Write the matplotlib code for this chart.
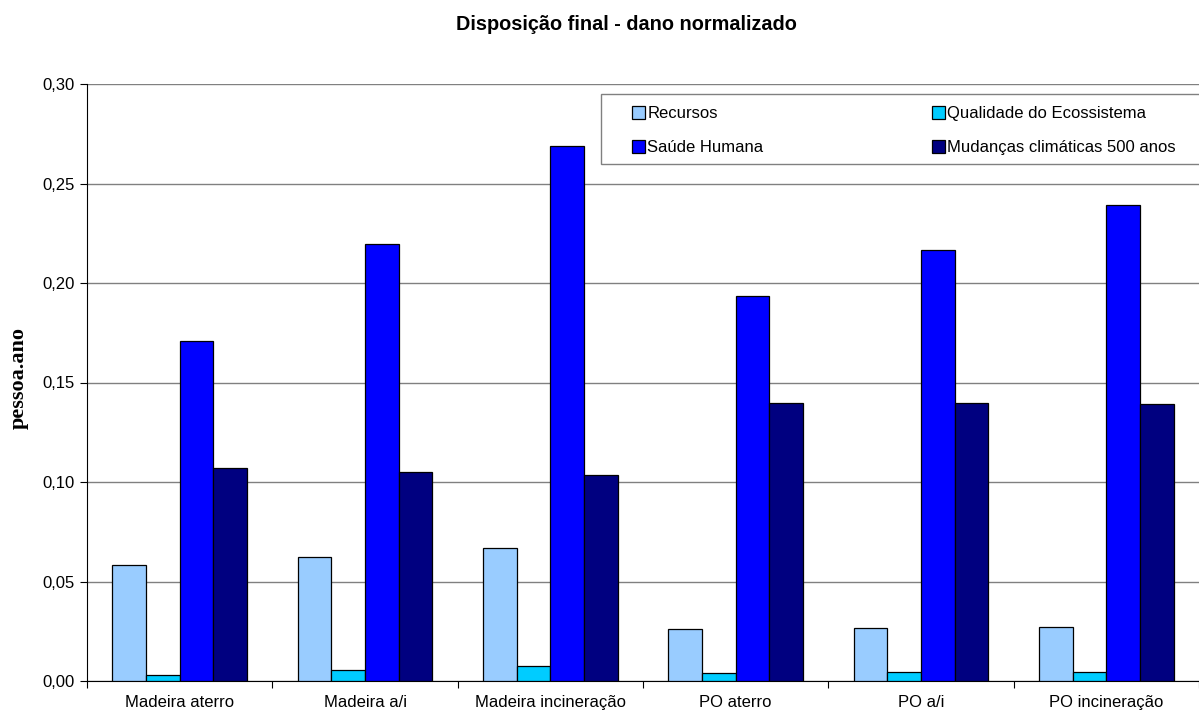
import numpy as np
import matplotlib as mpl
import matplotlib.pyplot as plt
from matplotlib.patches import Rectangle
from matplotlib.ticker import FixedLocator, FuncFormatter

mpl.rcParams.update({
    "font.family": "sans-serif",
    "font.sans-serif": ["Liberation Sans", "DejaVu Sans"],
    "font.size": 12,
})

# ── Data ─────────────────────────────────────────────────────────────
categories = ["Madeira aterro", "Madeira a/i", "Madeira incineração",
              "PO aterro", "PO a/i", "PO incineração"]
recursos = [0.0583, 0.0623, 0.0668, 0.0262, 0.0267, 0.0271]
qualidade = [0.0032, 0.0055, 0.0077, 0.0042, 0.0045, 0.0046]
saude = [0.1707, 0.2197, 0.2687, 0.1937, 0.2165, 0.2390]
mudancas = [0.1068, 0.1052, 0.1035, 0.1398, 0.1398, 0.1394]

series = ["Recursos", "Qualidade do Ecossistema", "Saúde Humana",
          "Mudanças climáticas 500 anos"]
colors = ["#99CCFF", "#00CCFF", "#0000FF", "#000080"]

W, H = 1199, 713

# ── Figure ───────────────────────────────────────────────────────────
fig = plt.figure(figsize=(W / 100, H / 100), dpi=100)
ax = fig.add_axes([87 / W, 1 - 681 / H, 1112 / W, 597 / H])

x = np.arange(len(categories))
bw = 1 / 5.5
bars = []
for i, (vals, c, name) in enumerate(zip([recursos, qualidade, saude, mudancas],
                                        colors, series)):
    b = ax.bar(x + (i - 1.5) * bw, vals, bw, color=c, edgecolor="black",
               linewidth=0.9, label=name, zorder=3)
    bars.append(b)

ax.set_xlim(-0.5, len(categories) - 0.5)
ax.set_ylim(0, 0.30)
ax.set_yticks(np.arange(0, 0.301, 0.05))
ax.yaxis.set_major_formatter(FuncFormatter(lambda v, p: f"{v:.2f}".replace(".", ",")))
ax.grid(axis="y", color="#808080", linewidth=1.0, zorder=0)

ax.set_xticks(x)
ax.set_xticklabels(categories, fontsize=12)
ax.xaxis.set_minor_locator(FixedLocator(np.arange(-0.5, len(categories), 1)))
ax.tick_params(axis="x", which="major", length=0, pad=10)
ax.tick_params(axis="x", which="minor", length=5, width=0.8, direction="out")
ax.tick_params(axis="y", length=5, width=0.8, direction="out", labelsize=12, pad=4)

for s in ["top", "right"]:
    ax.spines[s].set_visible(False)
ax.spines["left"].set_linewidth(0.8)
ax.spines["bottom"].set_linewidth(0.8)

fig.text(19 / W, 1 - 378 / H, "pessoa.ano", rotation=90, ha="center",
         va="center", fontfamily="Liberation Serif", fontweight="bold",
         fontsize=16)

fig.text(626 / W, 1 - 30 / H, "Disposição final - dano normalizado",
         fontsize=14.3, fontweight="bold", ha="center", va="baseline")

# legend box (extends past the right edge as in the original)
fig.patches.append(Rectangle((601 / W, 1 - 164 / H), 620 / W, 70 / H,
                             transform=fig.transFigure, facecolor="white",
                             edgecolor="#808080", linewidth=1.0, zorder=4))

order = [0, 2, 1, 3]  # row-wise filling
leg = fig.legend([bars[k] for k in order], [series[k] for k in order],
                 loc="upper left",
                 bbox_to_anchor=(632 / W, 1 - 106 / H, (1176 - 632) / W, 0),
                 mode="expand", ncol=2, frameon=False, fontsize=12,
                 handlelength=0.8, handleheight=0.8, handletextpad=0.12,
                 borderaxespad=0, borderpad=0, labelspacing=1.12)

fig.savefig("out.png", dpi=100)
